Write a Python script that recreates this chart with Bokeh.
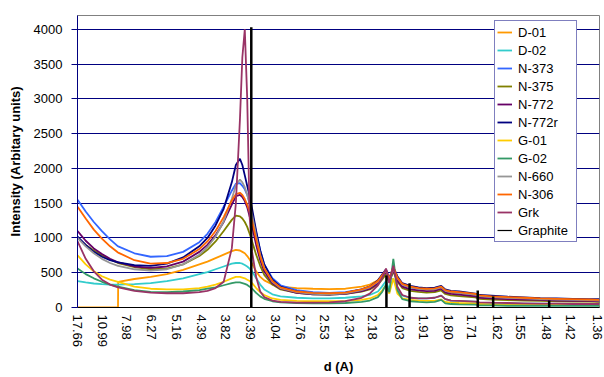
import math
from bokeh.plotting import figure
from bokeh.models import (Range1d, FixedTicker, Legend, LegendItem,
                          CustomJSTickFormatter, ColumnDataSource)
from bokeh.embed import file_html
from bokeh.resources import INLINE

# ---------------- data ----------------
# x-axis tick labels (d-spacing, Angstrom), Cu K-alpha scan
d_labels = ["17.66", "10.99", "7.98", "6.27", "5.16", "4.39", "3.82", "3.39",
            "3.04", "2.76", "2.53", "2.34", "2.18", "2.03", "1.91", "1.80",
            "1.71", "1.62", "1.55", "1.48", "1.42", "1.36"]
wavelength = 1.5406

# sampling positions (2-theta, degrees)
two_theta = [5, 6, 7, 8, 9, 9.98, 10, 12, 14, 16, 18, 20, 21, 22, 23, 24, 24.5,
             25, 25.3, 25.6, 25.9, 26.2, 26.5, 27, 27.5, 28, 29, 30, 32, 34, 36,
             38, 40, 41, 42, 42.5, 43, 43.4, 43.9, 44.4, 45, 46, 47, 48, 49, 49.8,
             50.3, 51, 52, 54, 54.5, 56, 58, 60, 62, 64, 66, 68, 69.3]

d01 = [0, 0, 0, 0, 0, 0, 370, 410, 440, 480, 540, 620, 660, 710, 760, 810, 830,
       820, 800, 780, 740, 690, 630, 520, 440, 390, 330, 300, 280, 270, 265,
       270, 300, 330, 390, 450, 520, 400, 560, 420, 330, 290, 270, 260, 255, 270,
       230, 210, 200, 180, 160, 150, 140, 130, 120, 110, 100, 95, 90]
d02 = [380, 360, 345, 335, 330, 330, 330, 335, 350, 380, 420, 480, 510, 550, 590,
       630, 640, 640, 630, 610, 590, 560, 520, 420, 330, 260, 190, 160, 140, 130,
       130, 140, 160, 180, 230, 300, 380, 250, 420, 250, 170, 140, 130, 130, 140,
       170, 120, 100, 95, 85, 70, 65, 60, 55, 55, 50, 50, 45, 45]
n373 = [1550, 1380, 1230, 1100, 980, 880, 880, 780, 730, 740, 800, 940, 1060,
        1230, 1450, 1680, 1780, 1790, 1750, 1700, 1620, 1500, 1360, 1080, 820,
        620, 420, 320, 250, 220, 210, 220, 260, 300, 380, 450, 530, 400, 560,
        420, 330, 290, 270, 260, 265, 290, 240, 220, 210, 185, 165, 155, 145,
        135, 125, 120, 115, 110, 105]
n375 = [1000, 900, 820, 750, 690, 640, 640, 580, 550, 560, 620, 740, 830, 950,
        1100, 1260, 1320, 1310, 1280, 1230, 1160, 1060, 950, 760, 600, 470, 330,
        260, 210, 190, 185, 195, 230, 260, 330, 400, 480, 360, 520, 370, 280,
        240, 225, 215, 220, 245, 195, 175, 165, 145, 125, 115, 105, 100, 95, 90,
        85, 85, 80]
n772 = [1100, 960, 850, 770, 700, 650, 650, 590, 570, 590, 660, 800, 900, 1040,
        1230, 1480, 1600, 1620, 1590, 1530, 1440, 1310, 1170, 900, 680, 520, 350,
        270, 210, 190, 185, 195, 235, 270, 350, 430, 520, 380, 540, 390, 300,
        260, 245, 235, 240, 270, 215, 195, 185, 160, 140, 130, 120, 115, 110,
        100, 95, 95, 90]
n772r = [1020, 900, 800, 730, 680, 650, 650, 610, 600, 630, 720, 880, 1000, 1180,
         1420, 1800, 2050, 2140, 2050, 1900, 1750, 1600, 1420, 1100, 820, 620,
         400, 300, 230, 200, 190, 210, 260, 300, 390, 470, 550, 420, 580, 450,
         350, 310, 290, 280, 285, 310, 260, 240, 230, 200, 180, 170, 155, 145,
         135, 130, 125, 120, 120]
g01 = [750, 620, 520, 450, 400, 370, 370, 300, 270, 260, 260, 280, 300, 330, 370,
       420, 440, 440, 430, 420, 400, 380, 350, 280, 220, 180, 130, 110, 95, 90,
       90, 95, 110, 130, 180, 240, 320, 200, 420, 200, 130, 110, 100, 95, 95,
       115, 80, 70, 65, 60, 50, 45, 45, 40, 40, 40, 35, 35, 35]
g02 = [560, 480, 420, 370, 330, 300, 300, 250, 225, 220, 230, 250, 270, 290, 320,
       350, 360, 360, 350, 340, 325, 300, 270, 210, 160, 125, 90, 75, 65, 60, 60,
       65, 80, 100, 150, 220, 330, 220, 700, 250, 120, 90, 80, 75, 80, 110, 60,
       50, 45, 40, 30, 30, 25, 25, 25, 25, 25, 25, 25]
n660 = [1000, 880, 780, 700, 640, 600, 600, 550, 530, 550, 620, 760, 870, 1020,
        1240, 1560, 1760, 1840, 1800, 1730, 1620, 1490, 1330, 1030, 760, 570,
        370, 280, 220, 195, 190, 205, 250, 290, 370, 450, 530, 400, 560, 420,
        330, 290, 270, 260, 265, 290, 240, 220, 210, 185, 165, 150, 140, 130,
        120, 115, 110, 105, 100]
n306 = [1450, 1280, 1120, 990, 880, 790, 790, 680, 630, 640, 700, 840, 950, 1100,
        1300, 1540, 1630, 1650, 1620, 1560, 1480, 1370, 1240, 980, 740, 560, 380,
        290, 230, 210, 205, 215, 260, 300, 380, 460, 540, 410, 580, 430, 340,
        300, 280, 270, 275, 300, 250, 230, 220, 195, 175, 160, 150, 140, 130,
        125, 120, 115, 110]
grk = [950, 700, 520, 400, 330, 290, 290, 240, 215, 205, 205, 220, 240, 280, 370,
       850, 1500, 2700, 3600, 4000, 3000, 1300, 800, 440, 230, 150, 100, 80, 70,
       70, 75, 90, 140, 200, 320, 420, 560, 350, 600, 300, 180, 140, 130, 130,
       140, 170, 120, 100, 95, 85, 75, 70, 65, 60, 55, 55, 50, 50, 50]

# graphite reference pattern (stick lines)
graphite_2theta = [26.4, 43.05, 45.9, 54.3, 56.2, 63.1]
graphite_int = [4030, 460, 350, 245, 160, 100]

series_names = ["D-01", "D-02", "N-373", "N-375", "N-772", "N-772r",
                "G-01", "G-02", "N-660", "N-306", "Grk"]
series_values = [d01, d02, n373, n375, n772, n772r, g01, g02, n660, n306, grk]
series_colors = ["#FF9900", "#33CCCC", "#3366FF", "#808000", "#660066", "#000080",
                 "#FFCC00", "#339966", "#969696", "#FF6600", "#993366"]

y_ticks = [0, 500, 1000, 1500, 2000, 2500, 3000, 3500, 4000]

# ---------------- figure ----------------
FONT = "Liberation Sans"
tick_pos = [2 * math.degrees(math.asin(wavelength / (2 * float(d)))) for d in d_labels]

p = figure(width=604, height=377, output_backend="svg", toolbar_location=None,
           x_range=Range1d(min(tick_pos) - 0.01, 69.3), y_range=Range1d(0, 4200),
           min_border_left=77, min_border_right=5, min_border_top=15,
           min_border_bottom=70)
p.background_fill_color = "white"
p.border_fill_color = "white"
p.outline_line_color = "#808080"
p.outline_line_width = 1

items = []
for name, vals, col in zip(series_names, series_values, series_colors):
    r = p.line(two_theta, vals, line_color=col, line_width=1.8)
    items.append(LegendItem(label=name, renderers=[r]))

src_g = ColumnDataSource(dict(x=graphite_2theta, y=graphite_int,
                              y0=[0] * len(graphite_int)))
p.segment(x0="x", y0="y0", x1="x", y1="y", source=src_g,
          line_color="black", line_width=2.5)
# thin legend sample for the graphite sticks (draws nothing in the plot)
nan = float("nan")
rg_leg = p.line(x=[nan], y=[nan], line_color="black", line_width=1.2)
items.append(LegendItem(label="Graphite", renderers=[rg_leg]))

# axes
xa = p.xaxis[0]
xa.ticker = FixedTicker(ticks=tick_pos)
xa.formatter = CustomJSTickFormatter(args=dict(pos=tick_pos, labs=d_labels), code="""
let best = 0, bd = 1e9;
for (let i = 0; i < pos.length; i++) {
  const dd = Math.abs(pos[i] - tick);
  if (dd < bd) { bd = dd; best = i; }
}
return labs[best];
""")
xa.major_label_orientation = "vertical"
xa.major_tick_out = 0
xa.major_tick_in = 0
xa.minor_tick_line_color = None
xa.axis_line_color = "black"
xa.major_label_text_font = FONT
xa.major_label_text_font_size = "13px"
xa.major_label_text_color = "black"
xa.major_label_standoff = 7
xa.axis_label = "d (A)"
xa.axis_label_text_font = FONT
xa.axis_label_text_font_size = "13px"
xa.axis_label_text_font_style = "bold"
xa.axis_label_text_color = "black"
xa.axis_label_standoff = 9

ya = p.yaxis[0]
ya.ticker = FixedTicker(ticks=y_ticks)
ya.axis_line_color = "#000080"
ya.major_tick_line_color = "#000080"
ya.major_tick_out = 6
ya.major_tick_in = 0
ya.minor_tick_line_color = None
ya.major_label_text_font = FONT
ya.major_label_text_font_size = "13px"
ya.major_label_text_color = "black"
ya.major_label_standoff = 9
ya.axis_label = "Intensity (Arbitary units)"
ya.axis_label_text_font = FONT
ya.axis_label_text_font_size = "13px"
ya.axis_label_text_font_style = "bold"
ya.axis_label_text_color = "black"
ya.axis_label_standoff = 8

p.xgrid.grid_line_color = None
p.ygrid.ticker = FixedTicker(ticks=y_ticks[1:])
p.ygrid.grid_line_color = "#000080"
p.ygrid.grid_line_width = 1

legend = Legend(items=items, location=(417, 65))
legend.border_line_color = "#000080"
legend.border_line_width = 1
legend.background_fill_color = "white"
legend.background_fill_alpha = 1
legend.label_text_font = FONT
legend.label_text_font_size = "13px"
legend.label_text_color = "black"
legend.padding = 2
legend.spacing = 0
legend.margin = 0
legend.label_height = 18
legend.glyph_height = 18
legend.glyph_width = 15
legend.label_standoff = 6
legend.label_width = 56
p.add_layout(legend, "center")

open("out.html", "w").write(file_html(p, INLINE))
